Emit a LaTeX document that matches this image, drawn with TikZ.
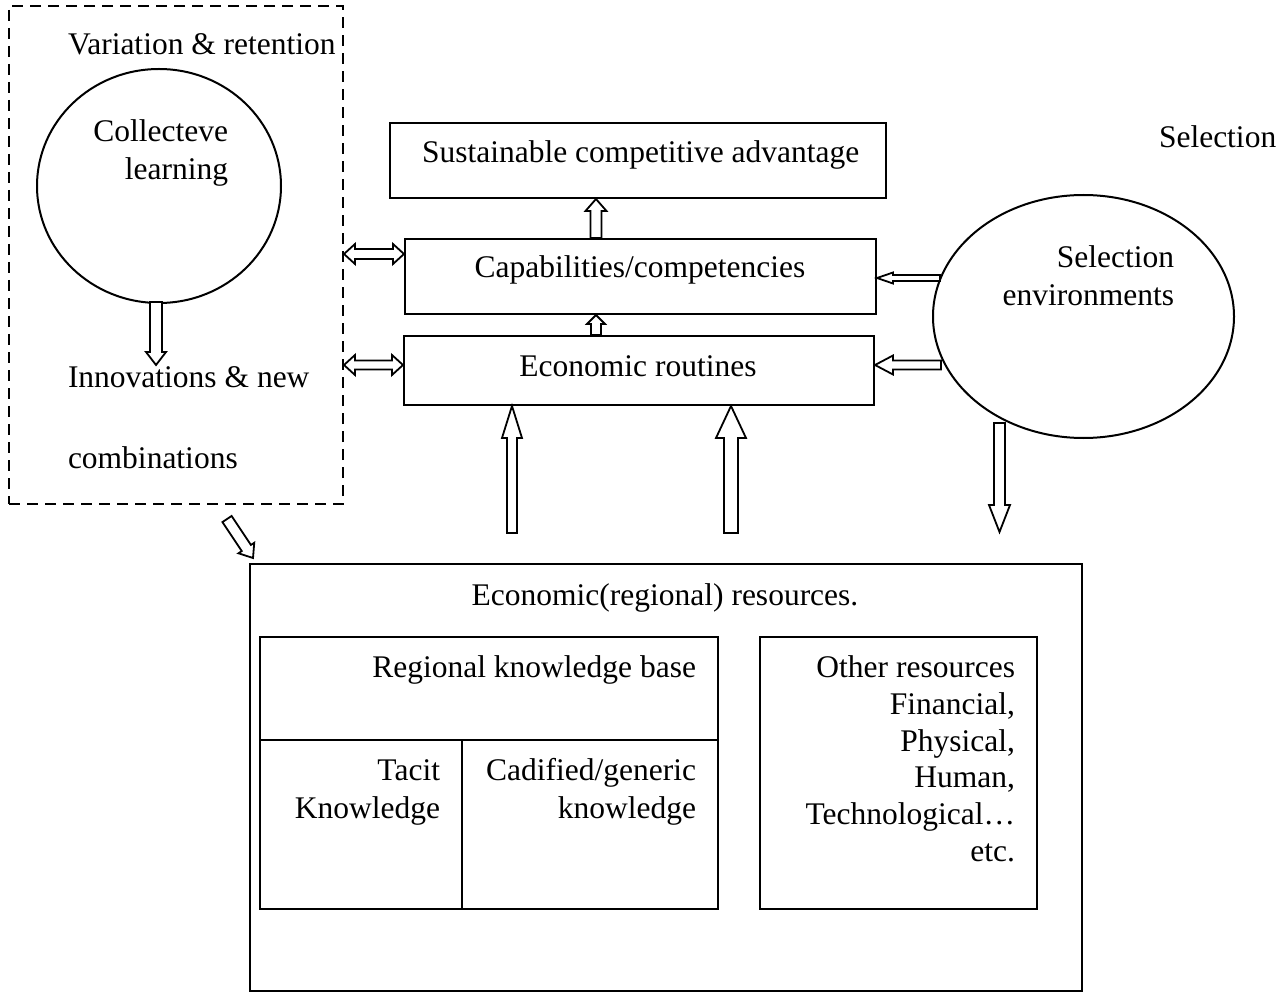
\documentclass[tikz,border=0pt]{standalone}
\usepackage{fontspec}
\setmainfont{Liberation Serif}
\usetikzlibrary{calc,shapes.geometric}

% hollow block arrow from #1 to #2: shaft half-width #3, head half-width #4, head length #5
\newcommand\blockarrow[5]{%
  \coordinate (ba-c) at ($(#2)!#5!(#1)$);
  \draw[blk] ($(#1)!#3!90:(#2)$) -- ($(ba-c)!#3!90:(#2)$) -- ($(ba-c)!#4!90:(#2)$)
    -- (#2) -- ($(ba-c)!#4!-90:(#2)$) -- ($(ba-c)!#3!-90:(#2)$)
    -- ($(#1)!#3!-90:(#2)$) -- cycle;}
% hollow double-headed block arrow between #1 and #2
\newcommand\dblockarrow[5]{%
  \coordinate (da-a) at ($(#1)!#5!(#2)$);
  \coordinate (da-b) at ($(#2)!#5!(#1)$);
  \draw[blk] (#1) -- ($(da-a)!#4!90:(#2)$) -- ($(da-a)!#3!90:(#2)$)
    -- ($(da-b)!#3!-90:(#1)$) -- ($(da-b)!#4!-90:(#1)$) -- (#2)
    -- ($(da-b)!#4!90:(#1)$) -- ($(da-b)!#3!90:(#1)$)
    -- ($(da-a)!#3!-90:(#2)$) -- ($(da-a)!#4!-90:(#2)$) -- cycle;}

\begin{document}
\begin{tikzpicture}[x=1pt,y=-1pt,
  line width=2pt,
  blk/.style={draw=black, fill=white, line width=1.8pt, line join=miter},
  box/.style={draw, rectangle, anchor=north west, inner sep=0pt},
  dbox/.style={box, dash pattern=on 11pt off 7pt},
  oval/.style={draw, ellipse, inner sep=0pt},
  txt/.style={inner sep=0pt, font=\fontsize{31.5}{38}\selectfont}]
\useasboundingbox (0,0) rectangle (1283,992);

% variation & retention frame
\node[dbox, minimum width=334pt, minimum height=498pt] (var) at (8,5) {};
\node[txt, anchor=base west] (varT) at (67,55) {Variation \& retention};
\node[oval, minimum width=244pt, minimum height=234pt] (learn) at (159,186) {};
\node[txt, anchor=base east] (learnA) at (229,142) {Collecteve};
\node[txt, anchor=base east] (learnB) at (229,180) {learning};
\node[txt, anchor=base west] (innoA) at (67,388) {Innovations \& new};
\node[txt, anchor=base west] (innoB) at (67,468) {combinations};

% central column
\node[box, minimum width=496pt, minimum height=75pt] (sca) at (389,122) {};
\node[txt, anchor=base west] (scaT) at (421,163) {Sustainable competitive advantage};
\node[box, minimum width=471pt, minimum height=75pt] (cap) at (404,238) {};
\node[txt, anchor=base] (capT) at (640,278) {Capabilities/competencies};
\node[box, minimum width=470pt, minimum height=69pt] (rout) at (403,335) {};
\node[txt, anchor=base] (routT) at (638,377) {Economic routines};

% selection
\node[txt, anchor=base west] (selT) at (1158,148) {Selection};
\node[oval, minimum width=301pt, minimum height=243pt] (env) at (1083.5,316.5) {};
\node[txt, anchor=base east] (envA) at (1175,268) {Selection};
\node[txt, anchor=base east] (envB) at (1175,306) {environments};

% resources
\node[box, minimum width=832pt, minimum height=427pt] (res) at (249,563) {};
\node[txt, anchor=base] (resT) at (665,605) {Economic(regional) resources.};
\node[box, minimum width=458pt, minimum height=272pt] (rkb) at (259,636) {};
\draw (rkb.west |- 0,740) -- (rkb.east |- 0,740);
\draw (462,740) -- (462,0 |- rkb.south);
\node[txt, anchor=base east] (rkbT) at (697,677) {Regional knowledge base};
\node[txt, anchor=base east] (tacA) at (441,780) {Tacit};
\node[txt, anchor=base east] (tacB) at (441,818) {Knowledge};
\node[txt, anchor=base east] (codA) at (697,780) {Cadified/generic};
\node[txt, anchor=base east] (codB) at (697,818) {knowledge};
\node[box, minimum width=277pt, minimum height=272pt] (oth) at (759,636) {};
\node[txt, anchor=base east] (othA) at (1016,677) {Other resources};
\node[txt, anchor=base east] (othB) at (1016,714) {Financial,};
\node[txt, anchor=base east] (othC) at (1016,751) {Physical,};
\node[txt, anchor=base east] (othD) at (1016,787) {Human,};
\node[txt, anchor=base east] (othE) at (1016,824) {Technological…};
\node[txt, anchor=base east] (othF) at (1016,861) {etc.};

% arrow end points
\coordinate (a1t) at (156,302);  \coordinate (a1h) at (156,365);
\coordinate (a2t) at (596,0 |- cap.north);  \coordinate (a2h) at (596,0 |- sca.south);
\coordinate (a3t) at (596,0 |- rout.north); \coordinate (a3h) at (596,0 |- cap.south);
\coordinate (d1a) at (var.east |- 0,254); \coordinate (d1b) at (cap.west |- 0,254);
\coordinate (d2a) at (var.east |- 0,365); \coordinate (d2b) at (rout.west |- 0,365);
\coordinate (a6t) at (940,278);  \coordinate (a6h) at (cap.east |- 0,278);
\coordinate (a7t) at (941,365);  \coordinate (a7h) at (rout.east |- 0,365);
\coordinate (a8t) at (999.5,423); \coordinate (a8h) at (999.5,532);
\coordinate (a9t) at (512,533);  \coordinate (a9h) at (512,0 |- rout.south);
\coordinate (a10t) at (731,533); \coordinate (a10h) at (731,0 |- rout.south);
\coordinate (a11t) at (227,519); \coordinate (a11h) at (253,558);

\blockarrow{a1t}{a1h}{6pt}{10pt}{13pt}
\blockarrow{a2t}{a2h}{5.5pt}{10.5pt}{12pt}
\blockarrow{a3t}{a3h}{5pt}{9pt}{9pt}
\dblockarrow{d1a}{d1b}{5pt}{10pt}{11pt}
\dblockarrow{d2a}{d2b}{4.5pt}{10pt}{11pt}
\blockarrow{a6t}{a6h}{3pt}{5.5pt}{16pt}
\blockarrow{a7t}{a7h}{4.5pt}{9.5pt}{18pt}
\blockarrow{a8t}{a8h}{5.5pt}{10.5pt}{27pt}
\blockarrow{a9t}{a9h}{5pt}{10pt}{32pt}
\blockarrow{a10t}{a10h}{7pt}{15pt}{32pt}
\blockarrow{a11t}{a11h}{5.5pt}{9.5pt}{12pt}
\end{tikzpicture}
\end{document}
